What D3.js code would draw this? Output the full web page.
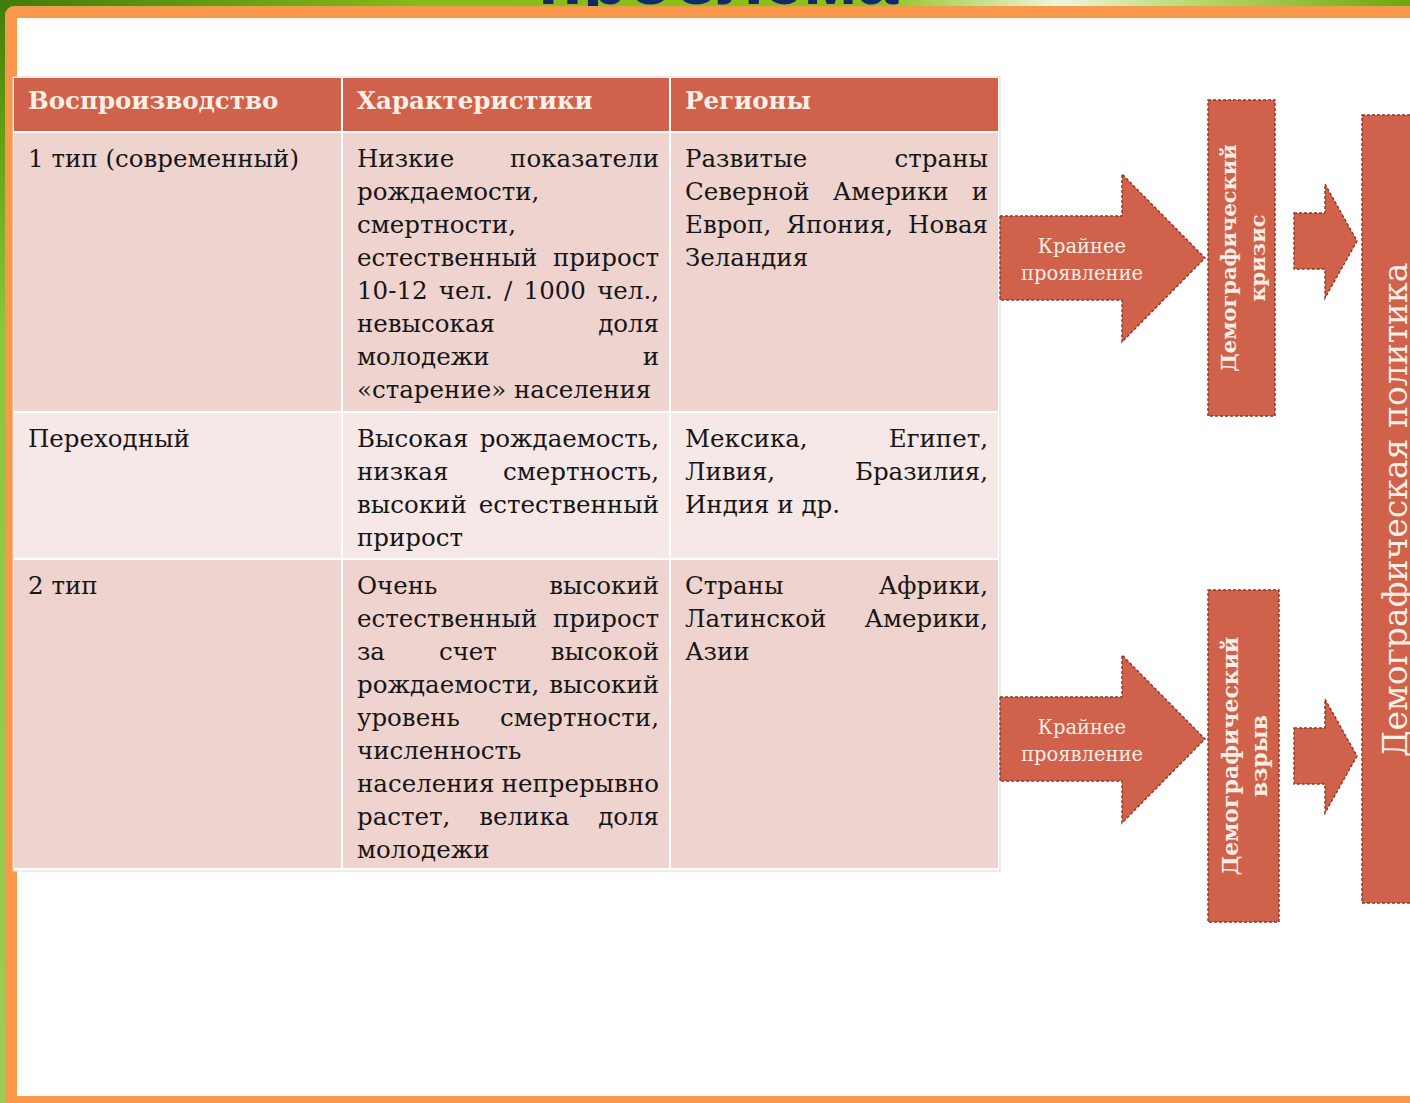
<!DOCTYPE html>
<html><head><meta charset="utf-8">
<script src="https://cdn.jsdelivr.net/npm/d3@7"></script>
<style>html,body{margin:0;padding:0;background:#fff;overflow:hidden}</style>
</head><body>
<script>
// ---------- DATA ----------
const titleText = "проблема";
const headers = ["Воспроизводство", "Характеристики", "Регионы"];
const rowTypes = [["1 тип (современный)"], ["Переходный"], ["2 тип"]];
const characteristics = [
  ["Низкие показатели", "рождаемости,", "смертности,", "естественный прирост", "10-12 чел. / 1000 чел.,", "невысокая доля", "молодежи и", "«старение» населения"],
  ["Высокая рождаемость,", "низкая смертность,", "высокий естественный", "прирост"],
  ["Очень высокий", "естественный прирост", "за счет высокой", "рождаемости, высокий", "уровень смертности,", "численность", "населения непрерывно", "растет, велика доля", "молодежи"]
];
const regions = [
  ["Развитые страны", "Северной Америки и", "Европ, Япония, Новая", "Зеландия"],
  ["Мексика, Египет,", "Ливия, Бразилия,", "Индия и др."],
  ["Страны Африки,", "Латинской Америки,", "Азии"]
];
const arrowLabel = ["Крайнее", "проявление"];
const outcomes = [["Демографический", "кризис"], ["Демографический", "взрыв"]];
const policyLabel = "Демографическая политика";

// ---------- LAYOUT ----------
const W = 1410, H = 1103;
const colEdges = [14, 343, 671, 1000];
const rowEdges = [78, 133, 413, 560, 870];
const gap = 2, padX = 14, padR = 12, lineH = 33, firstBase = 34;
const serif = "'DejaVu Serif', Georgia, serif";
const C = {header: "#d0614a", rowA: "#efd3cf", rowB: "#f6e8e6", text: "#161616",
  light: "#fcefe6", orange: "#f9984a", dash: "#8e3527", navy: "#0d2a6b"};

const svg = d3.select("body").append("svg").attr("width", W).attr("height", H);
const defs = svg.append("defs");
const gTop = defs.append("linearGradient").attr("id", "gtop").attr("x1", 0).attr("x2", 1);
[[0, "#3f7d0c"], [0.3, "#86bb1a"], [0.62, "#8fc01a"], [0.75, "#eef5dc"], [0.85, "#b7d86a"], [1, "#6aa70a"]]
  .forEach(([o, c]) => gTop.append("stop").attr("offset", o).attr("stop-color", c));
const gLeft = defs.append("linearGradient").attr("id", "gleft").attr("x1", 0).attr("x2", 0).attr("y1", 0).attr("y2", 1);
[[0, "#3f7d0c"], [0.1, "#5e9a0f"], [0.3, "#8cc63f"], [1, "#9ccc55"]]
  .forEach(([o, c]) => gLeft.append("stop").attr("offset", o).attr("stop-color", c));

// background
svg.append("rect").attr("width", W).attr("height", 20).attr("fill", "url(#gtop)");
svg.append("rect").attr("width", 8).attr("height", H).attr("fill", "url(#gleft)");
// title peeking above the frame
svg.append("text").attr("x", 718).attr("y", 4).attr("text-anchor", "middle")
  .attr("font-family", "'Liberation Sans', Arial, sans-serif").attr("font-weight", "bold")
  .attr("font-size", 74).attr("fill", C.navy).text(titleText);
// orange frame
svg.append("rect").attr("x", 5).attr("y", 6).attr("width", W + 20).attr("height", H).attr("rx", 9).attr("fill", C.orange);
svg.append("rect").attr("x", 17).attr("y", 18).attr("width", W).attr("height", 1096 - 18).attr("fill", "#fff");

// ---------- TABLE ----------
const tbl = svg.append("g");
tbl.append("rect").attr("x", colEdges[0] - 1).attr("y", rowEdges[0] - 1)
  .attr("width", colEdges[3] - colEdges[0] + 1).attr("height", rowEdges[4] - rowEdges[0] + 2)
  .attr("fill", "#fff").attr("stroke", "#d9d9d9").attr("stroke-width", 1);

const measurer = svg.append("text").attr("font-family", serif).attr("visibility", "hidden");
function measure(str, size, weight) {
  measurer.attr("font-size", size).attr("font-weight", weight).text(str);
  return measurer.node().getComputedTextLength();
}
function drawLines(g, lines, x0, x1, y0, size, weight, fill, justify) {
  lines.forEach((ln, i) => {
    const y = y0 + i * lineH;
    const words = ln.split(" ");
    const last = i === lines.length - 1;
    if (!justify || last || words.length < 2) {
      g.append("text").attr("x", x0).attr("y", y).attr("font-family", serif)
        .attr("font-size", size).attr("font-weight", weight).attr("fill", fill).text(ln);
    } else {
      const widths = words.map(w => measure(w, size, weight));
      const total = d3.sum(widths);
      const space = (x1 - x0 - total) / (words.length - 1);
      let x = x0;
      words.forEach((w, k) => {
        g.append("text").attr("x", x).attr("y", y).attr("font-family", serif)
          .attr("font-size", size).attr("font-weight", weight).attr("fill", fill).text(w);
        x += widths[k] + space;
      });
    }
  });
}

const FS = 24.5;
// header
headers.forEach((h, c) => {
  tbl.append("rect").attr("x", colEdges[c]).attr("y", rowEdges[0])
    .attr("width", colEdges[c + 1] - colEdges[c] - gap).attr("height", rowEdges[1] - rowEdges[0] - gap)
    .attr("fill", C.header);
  drawLines(tbl, [h], colEdges[c] + padX, 0, rowEdges[0] + 31, FS, "bold", C.light, false);
});
// body
const columns = [rowTypes, characteristics, regions];
rowTypes.forEach((_, r) => {
  columns.forEach((col, c) => {
    const x = colEdges[c], y = rowEdges[r + 1];
    tbl.append("rect").attr("x", x).attr("y", y)
      .attr("width", colEdges[c + 1] - x - gap).attr("height", rowEdges[r + 2] - y - gap)
      .attr("fill", r === 1 ? C.rowB : C.rowA);
    drawLines(tbl, col[r], x + padX, colEdges[c + 1] - padR, y + firstBase, FS, "normal", C.text, c > 0);
  });
});
measurer.remove();

// ---------- ARROWS & BOXES ----------
function arrowPath(x0, bodyTop, bodyBot, xHead, headTop, headBot, xTip) {
  const p = d3.path();
  const mid = (headTop + headBot) / 2;
  p.moveTo(x0, bodyTop); p.lineTo(xHead, bodyTop); p.lineTo(xHead, headTop);
  p.lineTo(xTip, mid); p.lineTo(xHead, headBot); p.lineTo(xHead, bodyBot);
  p.lineTo(x0, bodyBot); p.closePath();
  return p.toString();
}
const dg = svg.append("g");
function dashed(sel) {
  return sel.attr("fill", C.header).attr("stroke", C.dash).attr("stroke-width", 1.4).attr("stroke-dasharray", "3,2");
}
const bigArrows = [{cy: 258}, {cy: 739}];
bigArrows.forEach(a => {
  dashed(dg.append("path").attr("d", arrowPath(1000, a.cy - 42, a.cy + 42, 1122, a.cy - 84, a.cy + 84, 1205)));
  arrowLabel.forEach((t, i) => dg.append("text").attr("x", 1082).attr("y", a.cy - 5 + i * 27)
    .attr("text-anchor", "middle").attr("font-family", serif).attr("font-size", 19.5)
    .attr("fill", C.light).text(t));
});
const smallArrows = [{cy: 241}, {cy: 756}];
smallArrows.forEach(a => {
  dashed(dg.append("path").attr("d", arrowPath(1294, a.cy - 28, a.cy + 28, 1325, a.cy - 57, a.cy + 57, 1357)));
});
const boxes = [{x: 1208, y: 100, w: 67, h: 316, fs: 21}, {x: 1208, y: 590, w: 71, h: 332, fs: 22}];
boxes.forEach((b, i) => {
  dashed(dg.append("rect").attr("x", b.x).attr("y", b.y).attr("width", b.w).attr("height", b.h));
  const cx = b.x + b.w / 2, cy = b.y + b.h / 2;
  outcomes[i].forEach((t, k) => {
    dg.append("text").attr("transform", `translate(${cx - 6 + k * 29},${cy}) rotate(-90)`)
      .attr("text-anchor", "middle").attr("font-family", serif).attr("font-weight", "bold")
      .attr("font-size", b.fs).attr("fill", C.light).text(t);
  });
});
dashed(dg.append("rect").attr("x", 1362).attr("y", 115).attr("width", 80).attr("height", 788));
dg.append("text").attr("transform", `translate(1407,510) rotate(-90)`).attr("text-anchor", "middle")
  .attr("font-family", serif).attr("font-size", 33).attr("fill", C.light).text(policyLabel);
</script>
</body></html>
